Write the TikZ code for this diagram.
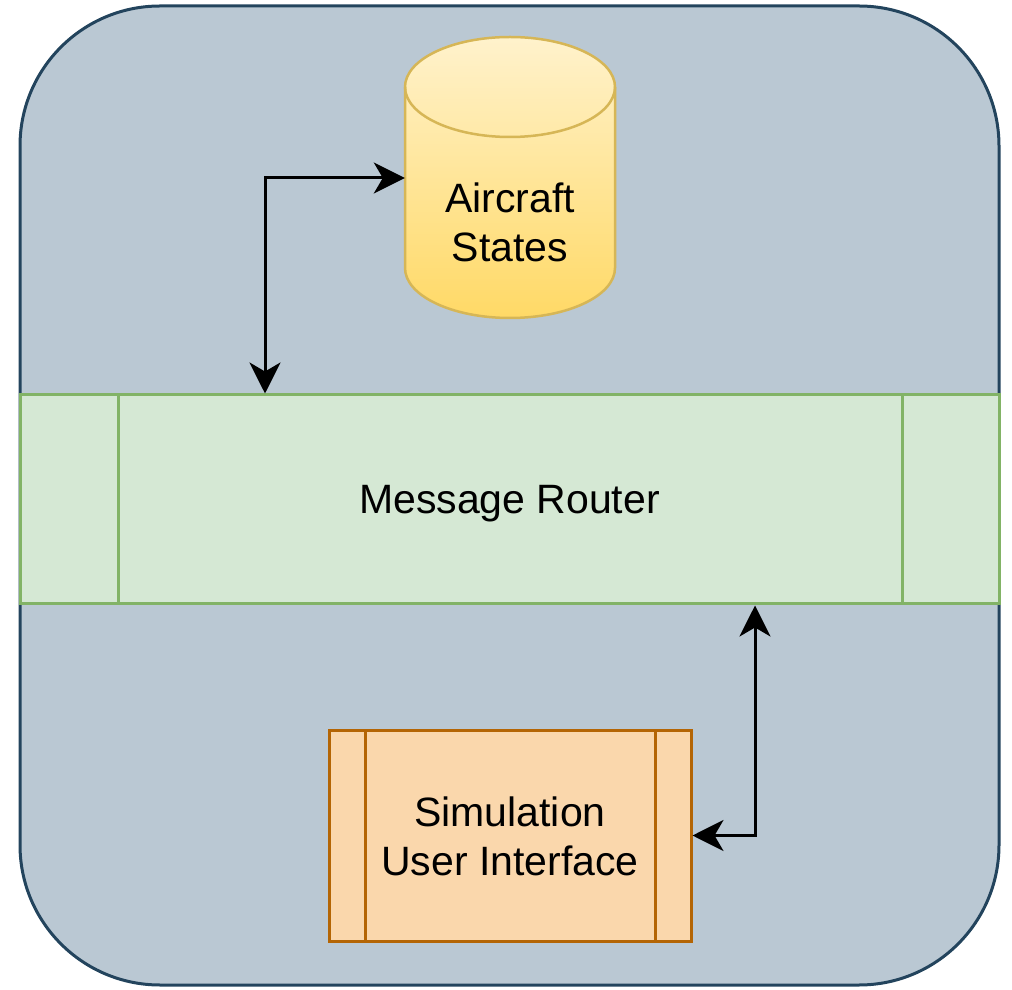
\documentclass[tikz,border=0pt]{standalone}
\usepackage{fontspec}
\setmainfont{Liberation Sans}
\usetikzlibrary{arrows.meta}
\definecolor{outerfill}{HTML}{BAC8D3}
\definecolor{outerline}{HTML}{23445D}
\definecolor{routerfill}{HTML}{D5E8D4}
\definecolor{routerline}{HTML}{82B366}
\definecolor{dbtop}{HTML}{FFF2CC}
\definecolor{dbbottom}{HTML}{FFD966}
\definecolor{dbline}{HTML}{D6B656}
\definecolor{uifill}{HTML}{FAD7AC}
\definecolor{uiline}{HTML}{B46504}
\tikzset{
  lbl/.style={font=\fontsize{41}{49}\selectfont, align=center, text=black},
  procbox/.style={draw, line width=3pt, rectangle, inner sep=0pt},
  arr/.style={line width=3pt, draw=black,
    {Stealth[length=31pt,width=31pt,inset=9pt]}-{Stealth[length=31pt,width=31pt,inset=9pt]}},
}
\begin{document}
\begin{tikzpicture}[x=1pt,y=1pt]
\useasboundingbox (0,0) rectangle (1012,989);
% container
\draw[fill=outerfill, draw=outerline, line width=3pt, rounded corners=140pt]
  (20,4) rectangle (999,983);
% message router (process box)
\node[procbox, fill=routerfill, draw=routerline, minimum width=979pt, minimum height=209pt]
  (router) at (509.5,489.5) {};
\draw[routerline, line width=3pt] (118,385) -- (118,594) (902,385) -- (902,594);
\node[lbl] (routertext) at (509.5,485) {Message Router};
% aircraft states database (cylinder)
\path[top color=dbtop, bottom color=dbbottom, draw=dbline, line width=2.5pt]
  (405,902) -- (405,721) arc[start angle=180, end angle=360, x radius=105, y radius=50]
  -- (615,902) arc[start angle=0, end angle=180, x radius=105, y radius=50] -- cycle;
\draw[dbline, line width=2.5pt] (405,902) arc[start angle=180, end angle=360, x radius=105, y radius=50];
\node[minimum width=210pt, minimum height=280pt, inner sep=0pt] (db) at (510,811) {};
\node[lbl] (dbtext) at (510,767) {Aircraft\\States};
% simulation user interface (process box)
\node[procbox, fill=uifill, draw=uiline, minimum width=362pt, minimum height=211pt]
  (ui) at (510,153.5) {};
\draw[uiline, line width=3pt] (365,48) -- (365,259) (655,48) -- (655,259);
\node[lbl] (uitext) at (510,153) {Simulation\\User Interface};
% connectors
\draw[arr] ([xshift=-244.5pt]router.north) |- (db.west);
\draw[arr] ([xshift=245.5pt]router.south) |- (ui.east);
\end{tikzpicture}
\end{document}
